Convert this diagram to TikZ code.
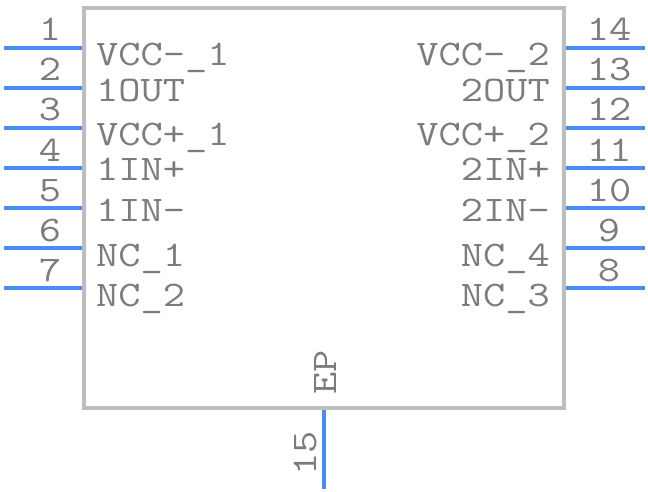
\documentclass[tikz,border=0pt]{standalone}
\usepackage{fontspec}
\definecolor{pinc}{HTML}{4A8CF5}
\definecolor{bodyc}{HTML}{BEBEBE}
\definecolor{txtc}{HTML}{7C7C7C}
\newcommand{\wdt}[1]{\scalebox{1.2}[1]{\ttfamily #1}}
\tikzset{x=1pt,y=-1pt,
 pinline/.style={draw=pinc,line width=4pt},
 bodybox/.style={draw=bodyc,line width=4pt},
 lab/.style={text=txtc,font=\fontsize{36}{36}\selectfont,inner sep=0pt},
 nm/.style={lab,anchor=base east},
 nmw/.style={lab,anchor=base west},
 pinnum/.style={lab,anchor=base}}
\newcommand{\lpin}[3]{%
 \coordinate (lo#1) at (4,#2); \coordinate (li#1) at (82,#2);
 \draw[pinline] (lo#1) -- (li#1);
 \node[pinnum] (ln#1) at (50,#2-7) {\wdt{#3}};}
\newcommand{\rpin}[3]{%
 \coordinate (ro#1) at (645,#2); \coordinate (ri#1) at (566,#2);
 \draw[pinline] (ro#1) -- (ri#1);
 \node[pinnum] (rn#1) at (609,#2-7) {\wdt{#3}};}
\begin{document}
\begin{tikzpicture}
\useasboundingbox (0,0) rectangle (648,492);
\draw[bodybox] (84,8) rectangle (564,408);
\lpin{1}{48}{1}\lpin{2}{88}{2}\lpin{3}{128}{3}\lpin{4}{168}{4}\lpin{5}{208}{5}\lpin{6}{248}{6}\lpin{7}{288}{7}
\rpin{14}{48}{14}\rpin{13}{88}{13}\rpin{12}{128}{12}\rpin{11}{168}{11}\rpin{10}{208}{10}\rpin{9}{248}{9}\rpin{8}{288}{8}
\node[nmw] (a1) at (96,66) {\wdt{VCC-\_1}};
\node[nmw] (a2) at (96,102) {\wdt{1OUT}};
\node[nmw] (a3) at (96,146) {\wdt{VCC+\_1}};
\node[nmw] (a4) at (96,181) {\wdt{1IN+}};
\node[nmw] (a5) at (96,221) {\wdt{1IN-}};
\node[nmw] (a6) at (96,266) {\wdt{NC\_1}};
\node[nmw] (a7) at (96,306) {\wdt{NC\_2}};
\node[nm] (b1) at (550,66) {\wdt{VCC-\_2}};
\node[nm] (b2) at (550,102) {\wdt{2OUT}};
\node[nm] (b3) at (550,146) {\wdt{VCC+\_2}};
\node[nm] (b4) at (550,181) {\wdt{2IN+}};
\node[nm] (b5) at (550,221) {\wdt{2IN-}};
\node[nm] (b6) at (550,266) {\wdt{NC\_4}};
\node[nm] (b7) at (550,306) {\wdt{NC\_3}};
\coordinate (ep1) at (324,410); \coordinate (ep2) at (324,489);
\draw[pinline] (ep1) -- (ep2);
\node[lab,rotate=90,anchor=base west] (n15) at (316,476) {\wdt{15}};
\node[lab,rotate=90,anchor=base west] (ep) at (336,395) {\wdt{EP}};
\end{tikzpicture}
\end{document}
